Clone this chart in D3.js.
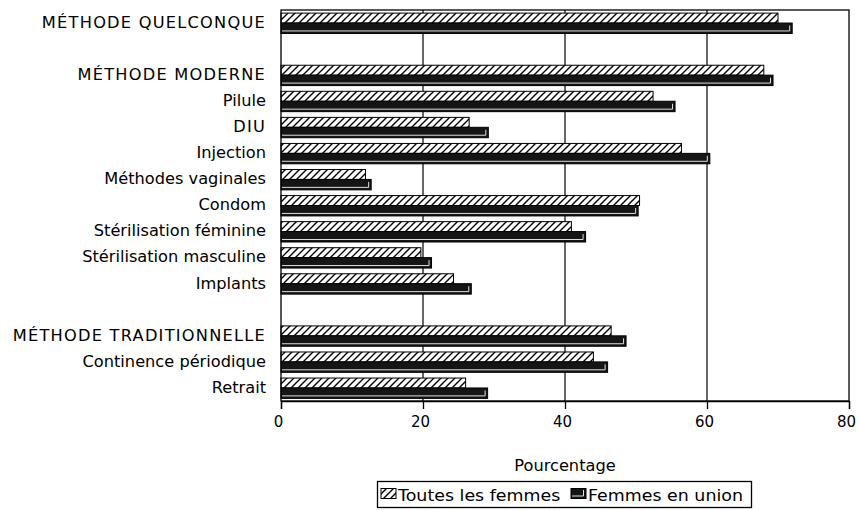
<!DOCTYPE html>
<html><head><meta charset="utf-8">
<script src="https://cdn.jsdelivr.net/npm/d3@7"></script>
<style>body{margin:0;background:#fff}</style>
</head><body><svg id="c" width="859" height="510"></svg>
<script>
const categories = ["MÉTHODE QUELCONQUE", "", "MÉTHODE MODERNE", "Pilule", "DIU", "Injection", "Méthodes vaginales", "Condom", "Stérilisation féminine", "Stérilisation masculine", "Implants", "", "MÉTHODE TRADITIONNELLE", "Continence périodique", "Retrait"];
const toutes = [70.0, null, 68.0, 52.4, 26.5, 56.4, 11.9, 50.5, 40.9, 19.7, 24.3, null, 46.5, 44.0, 26.0];
const union  = [72.0, null, 69.3, 55.5, 29.2, 60.4, 12.7, 50.3, 42.9, 21.2, 26.8, null, 48.6, 46.0, 29.1];
const xTicks = [0, 20, 40, 60, 80];
const seriesNames = ["Toutes les femmes", "Femmes en union"];
const axisTitle = "Pourcentage";

const svg = d3.select("#c");
const FONT = "DejaVu Sans, sans-serif";
const L = 281, R = 849, T = 10, B = 401;

const defs = svg.append("defs");
const pat = defs.append("pattern").attr("id", "hatch").attr("patternUnits", "userSpaceOnUse")
  .attr("width", 7).attr("height", 7);
pat.append("rect").attr("width", 7).attr("height", 7).attr("fill", "#fff");
pat.append("path").attr("d", "M-1,1 L1,-1 M0,7 L7,0 M6,8 L8,6")
  .attr("stroke", "#000").attr("stroke-width", 1.4);

const x = d3.scaleLinear().domain([0, 80]).range([L, R]);
const y = d3.scaleBand().domain(d3.range(categories.length)).range([T, B])
  .paddingInner(0.2).paddingOuter(0.1);
const sub = d3.scaleBand().domain([0, 1]).range([0, y.bandwidth()]);

// gridlines
svg.append("g").selectAll("line").data(xTicks.filter(t => t > 0 && t < 80)).join("line")
  .attr("x1", d => x(d)).attr("x2", d => x(d)).attr("y1", T).attr("y2", B)
  .attr("stroke", "#000").attr("stroke-width", 1.2);

// bars
const rows = categories.map((c, i) => ({i, c, a: toutes[i], b: union[i]})).filter(d => d.a != null);
const g = svg.append("g");
g.selectAll("rect.h").data(rows).join("rect").attr("class", "h")
  .attr("x", x(0)).attr("y", d => y(d.i) + sub(0) + 0.5)
  .attr("width", d => x(d.a) - x(0)).attr("height", sub.bandwidth() - 0.5)
  .attr("fill", "url(#hatch)").attr("stroke", "#000").attr("stroke-width", 1);
g.selectAll("rect.d").data(rows).join("rect").attr("class", "d")
  .attr("x", x(0)).attr("y", d => y(d.i) + sub(1))
  .attr("width", d => x(d.b) - x(0)).attr("height", sub.bandwidth())
  .attr("fill", "#151515").attr("stroke", "#000").attr("stroke-width", 1);
g.selectAll("path.bev").data(rows).join("path").attr("class", "bev")
  .attr("d", d => {
    const x0 = x(0) + 1, x1 = x(d.b) - 2.5, y0 = y(d.i) + sub(1) + 2.5, y1 = y(d.i) + sub(1) + sub.bandwidth() - 2.5;
    return `M${x0},${y1} L${x1},${y1} L${x1},${y0}`;
  })
  .attr("fill", "none").attr("stroke", "#e0e0e0").attr("stroke-width", 1);

// frame
svg.append("rect").attr("x", L).attr("y", T).attr("width", R - L).attr("height", B - T)
  .attr("fill", "none").attr("stroke", "#000").attr("stroke-width", 1.3);

// x axis
const xAxis = d3.axisBottom(x).tickValues(xTicks).tickSize(8).tickPadding(7);
const ax = svg.append("g").attr("transform", `translate(0,${B})`).call(xAxis);
ax.select(".domain").attr("stroke", "#000").attr("stroke-width", 1.3);
ax.selectAll(".tick line").attr("stroke", "#000").attr("stroke-width", 1.3);
ax.selectAll(".tick text").attr("font-family", FONT).attr("font-size", 15).attr("fill", "#000")
  .attr("dx", -3);

// y labels
svg.append("g").selectAll("text").data(categories.map((c, i) => ({c, i})).filter(d => d.c)).join("text")
  .attr("transform", d => `translate(266,${y(d.i) + y.bandwidth() / 2}) scale(1.08,1)`)
  .attr("text-anchor", "end").attr("dominant-baseline", "central")
  .attr("font-family", FONT).attr("font-size", 15).attr("fill", "#000")
  .attr("letter-spacing", d => d.c === d.c.toUpperCase() ? 1.15 : 0)
  .text(d => d.c);

// axis title
svg.append("text").attr("transform", `translate(565,466) scale(1.08,1)`)
  .attr("text-anchor", "middle").attr("dominant-baseline", "central")
  .attr("font-family", FONT).attr("font-size", 15).attr("fill", "#000").text(axisTitle);

// legend
const lg = svg.append("g");
lg.append("rect").attr("x", 377.5).attr("y", 481.5).attr("width", 374).attr("height", 26)
  .attr("fill", "#fff").attr("stroke", "#000").attr("stroke-width", 1.3);
const lx = [381, 571];
lg.append("rect").attr("x", lx[0]).attr("y", 488.5).attr("width", 15).attr("height", 10)
  .attr("fill", "url(#hatch)").attr("stroke", "#000");
lg.append("rect").attr("x", lx[1]).attr("y", 488.5).attr("width", 15).attr("height", 10)
  .attr("fill", "#151515").attr("stroke", "#000");
lg.append("path").attr("d", `M${lx[1]+1},${496} L${lx[1]+12.5},496 L${lx[1]+12.5},490`)
  .attr("fill", "none").attr("stroke", "#e0e0e0");
seriesNames.forEach((s, k) => {
  lg.append("text").attr("transform", `translate(${lx[k] + 17},495) scale(1.09,1)`)
    .attr("dominant-baseline", "central").attr("font-family", FONT).attr("font-size", 16)
    .attr("fill", "#000").text(s);
});
</script></body></html>
